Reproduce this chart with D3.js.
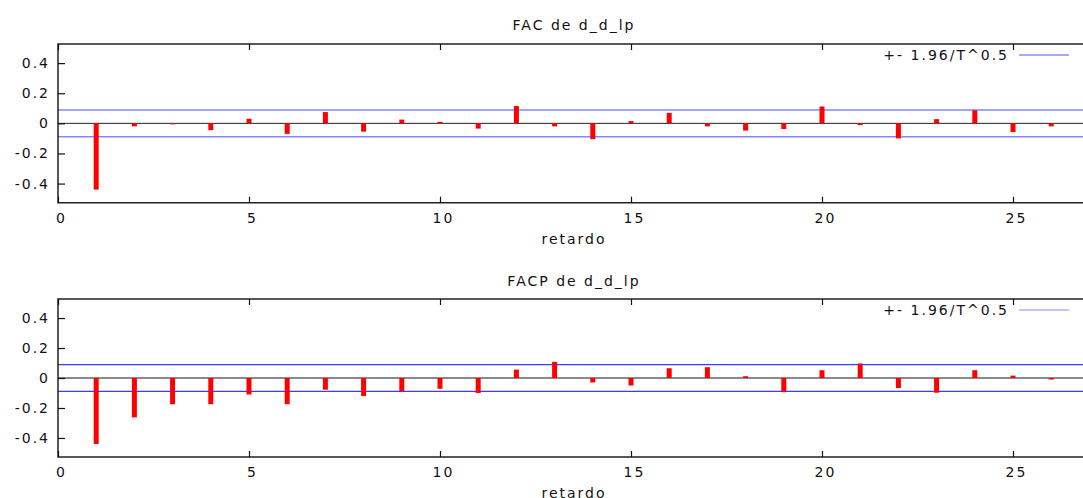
<!DOCTYPE html>
<html lang="es">
<head>
<meta charset="UTF-8">
<title>FAC / FACP de d_d_lp</title>
<script src="https://d3js.org/d3.v7.min.js"></script>
<style>
    body { margin: 0; background: #fff; }
    svg { display: block; }
    text { font-family: "DejaVu Sans", sans-serif; font-size: 14px; letter-spacing: 2px; fill: #111; }
    .axis path { display: none; }
    .axis line { stroke: #111; stroke-width: 1.2; }
</style>
</head>
<body>
<div id="chart"></div>
<script>
// lags 1..26
const lags = d3.range(1, 27);
const facValues = [-0.44, -0.02, -0.005, -0.045, 0.03, -0.07, 0.075, -0.055, 0.025, 0.01,
    -0.035, 0.115, -0.02, -0.105, 0.015, 0.07, -0.02, -0.048, -0.038, 0.112,
    -0.012, -0.1, 0.028, 0.087, -0.058, -0.02];
const facpValues = [-0.44, -0.263, -0.175, -0.175, -0.11, -0.175, -0.078, -0.12, -0.09, -0.072,
    -0.1, 0.056, 0.108, -0.03, -0.05, 0.065, 0.072, 0.012, -0.094, 0.052,
    0.097, -0.067, -0.098, 0.052, 0.016, -0.01];
const band = 0.089;
const xTicks = [0, 5, 10, 15, 20, 25];
const yTicks = [0.4, 0.2, 0, -0.2, -0.4];
const legendLabel = "+- 1.96/T^0.5";

const W = 1083, H = 498;
const svg = d3.select("#chart").append("svg")
    .attr("width", W)
    .attr("height", H);

const x = d3.scaleLinear().domain([0, 27]).range([58, 58 + 27 * 38.2]);

function panel(cfg) {
    const y = d3.scaleLinear().domain([-0.527, 0.527]).range([cfg.bottom, cfg.top]);
    const g = svg.append("g");

    // bands and zero line
    [band, -band].forEach(v => {
        g.append("line")
            .attr("x1", x(0)).attr("x2", x(27))
            .attr("y1", y(v)).attr("y2", y(v))
            .attr("stroke", cfg.bandColor).attr("stroke-width", cfg.bandWidth);
    });
    g.append("line")
        .attr("x1", x(0)).attr("x2", x(27))
        .attr("y1", y(0)).attr("y2", y(0))
        .attr("stroke", cfg.zeroColor).attr("stroke-width", cfg.zeroWidth);

    // bars
    g.selectAll(".bar")
        .data(cfg.values)
        .enter().append("rect")
        .attr("class", "bar")
        .attr("x", (d, i) => x(lags[i]) - 2.5)
        .attr("width", 5)
        .attr("y", d => y(Math.max(0, d)))
        .attr("height", d => Math.max(1, Math.abs(y(d) - y(0))))
        .attr("fill", "#ff0000");

    // frame
    g.append("path")
        .attr("d", `M${x(27)},${cfg.top}H${x(0)}V${cfg.bottom}H${x(27)}`)
        .attr("fill", "none").attr("stroke", "#222").attr("stroke-width", 1.5);

    // axes
    g.append("g").attr("class", "axis")
        .attr("transform", `translate(0,${cfg.bottom})`)
        .call(d3.axisBottom(x).tickValues(xTicks).tickSize(-6).tickPadding(8))
        .selectAll("text").attr("dy", "0.85em").attr("dx", 3);
    g.append("g").attr("class", "axis")
        .attr("transform", `translate(0,${cfg.top})`)
        .call(d3.axisTop(x).tickValues(xTicks).tickSize(-6).tickFormat(""));
    g.append("g").attr("class", "axis")
        .attr("transform", `translate(${x(0)},0)`)
        .call(d3.axisLeft(y).tickValues(yTicks).tickSize(-7).tickPadding(8)
            .tickFormat(d => d === 0 ? "0" : d3.format(".1f")(d).replace("−", "-")));

    // titles
    svg.append("text")
        .attr("x", 574).attr("y", cfg.titleY)
        .attr("text-anchor", "middle").attr("dominant-baseline", "central")
        .text(cfg.title);
    svg.append("text")
        .attr("x", 574).attr("y", cfg.bottom + 36)
        .attr("text-anchor", "middle").attr("dominant-baseline", "central")
        .text("retardo");

    // legend
    svg.append("text")
        .attr("x", 1009).attr("y", cfg.top + 11)
        .attr("text-anchor", "end").attr("dominant-baseline", "central")
        .text(legendLabel);
    svg.append("line")
        .attr("x1", 1019).attr("x2", 1069)
        .attr("y1", cfg.top + 11).attr("y2", cfg.top + 11)
        .attr("stroke", cfg.legendColor).attr("stroke-width", 1.2);
}

panel({
    title: "FAC de d_d_lp", titleY: 25, top: 44, bottom: 202.7, values: facValues,
    bandColor: "#8585ff", bandWidth: 1.6, zeroColor: "#222", zeroWidth: 1,
    legendColor: "#5555ee"
});
panel({
    title: "FACP de d_d_lp", titleY: 281, top: 299, bottom: 457, values: facpValues,
    bandColor: "#3b3bff", bandWidth: 1.2, zeroColor: "#8a8a8a", zeroWidth: 2,
    legendColor: "#8585ff"
});
</script>
</body>
</html>
